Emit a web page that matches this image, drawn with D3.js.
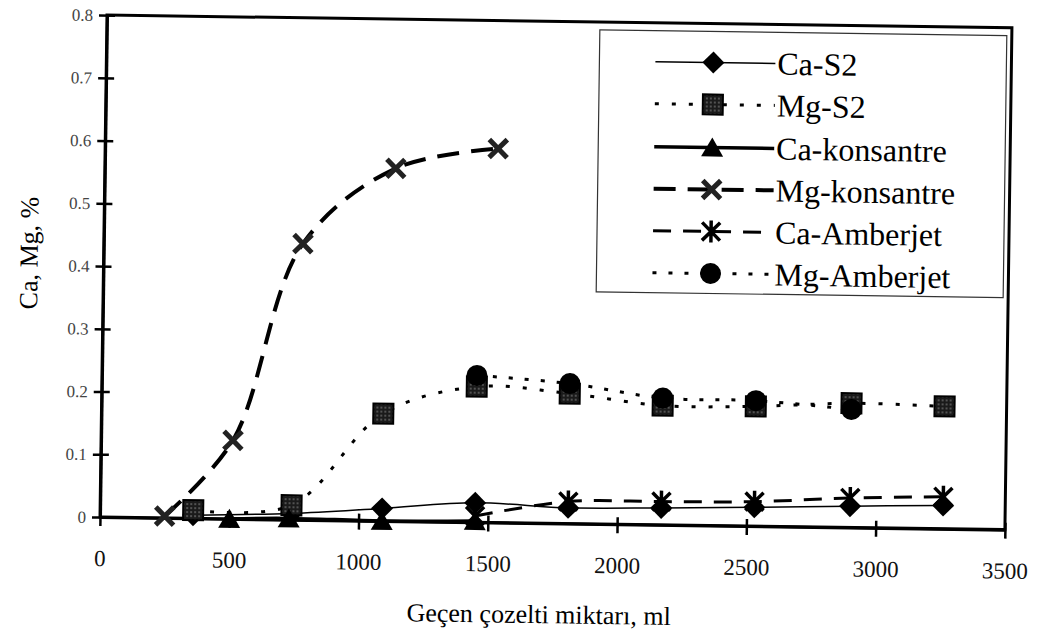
<!DOCTYPE html>
<meta charset="utf-8">
<style>
  body { margin: 0; background: #fff; }
  svg { font-family: "Liberation Serif", "DejaVu Serif", serif; }
</style>
<body>
<script src="https://cdn.jsdelivr.net/npm/d3@7"></script>
<script>
// values
var names = ["Ca-S2", "Mg-S2", "Ca-konsantre", "Mg-konsantre", "Ca-Amberjet", "Mg-Amberjet"];

var caS2X = [360, 740, 1090, 1450, 1810, 2170, 2530, 2900, 3260];
var caS2Y = [0.005, 0.01, 0.02, 0.031, 0.025, 0.027, 0.03, 0.034, 0.037];

var mgS2X = [360, 740, 1090, 1450, 1810, 2170, 2530, 2900, 3260];
var mgS2Y = [0.013, 0.023, 0.171, 0.216, 0.207, 0.19, 0.191, 0.198, 0.195];

var caKonX = [500, 730, 1090, 1450];
var caKonY = [0, 0.002, 0, 0.002];

var mgKonX = [250, 510, 770, 1125, 1520];
var mgKonY = [0.003, 0.125, 0.44, 0.562, 0.596];

var caAmbX = [1450, 1810, 2170, 2530, 2900, 3260];
var caAmbY = [0.01, 0.035, 0.037, 0.039, 0.047, 0.051];

var mgAmbX = [1450, 1810, 2170, 2530, 2900];
var mgAmbY = [0.234, 0.223, 0.202, 0.2, 0.188];

var xTicks = [0, 500, 1000, 1500, 2000, 2500, 3000, 3500];
var yTicks = [0, 0.1, 0.2, 0.3, 0.4, 0.5, 0.6, 0.7, 0.8];

var width = 1044, height = 638;

var x = d3.scaleLinear().domain([0, 3500]).range([100, 1005]);
var y = d3.scaleLinear().domain([0, 0.8]).range([517, 15]);

var svg = d3.select("body").append("svg")
  .attr("width", width)
  .attr("height", height);

var defs = svg.append("defs");
var pat = defs.append("pattern").attr("id", "stip")
  .attr("width", 4).attr("height", 4).attr("patternUnits", "userSpaceOnUse");
pat.append("rect").attr("width", 4).attr("height", 4).attr("fill", "#1a1a1a");
pat.append("circle").attr("cx", 2).attr("cy", 2).attr("r", 0.8).attr("fill", "#999");

// the scan is a little tilted, so the whole chart is turned slightly
var g = svg.append("g").attr("transform", "rotate(0.8,100,517)");

function zip(xs, ys) { return xs.map(function(v, i) { return [v, ys[i]]; }); }

var series = [
  {name: names[0], pts: zip(caS2X, caS2Y), width: 1.5, dash: null, mark: "diamond"},
  {name: names[1], pts: zip(mgS2X, mgS2Y), width: 3, dash: "4,13", mark: "square"},
  {name: names[2], pts: zip(caKonX, caKonY), width: 3.5, dash: null, mark: "triangle"},
  {name: names[3], pts: zip(mgKonX, mgKonY), width: 4, dash: "22,12", mark: "x"},
  {name: names[4], pts: zip(caAmbX, caAmbY), width: 3, dash: "18,12", mark: "star"},
  {name: names[5], pts: zip(mgAmbX, mgAmbY), width: 3, dash: "4,12", mark: "circle"}
];

// plot frame
g.append("rect")
  .attr("x", x(0)).attr("y", y(0.8))
  .attr("width", x(3500) - x(0)).attr("height", y(0) - y(0.8))
  .attr("fill", "none").attr("stroke", "#000").attr("stroke-width", 3);

// axes
var gx = g.append("g")
  .attr("transform", "translate(0," + y(0) + ")")
  .call(d3.axisBottom(x).tickValues(xTicks).tickSizeOuter(0).tickSizeInner(9)
    .tickFormat(d3.format("d")));
gx.attr("font-family", null).attr("font-size", null);
gx.select(".domain").attr("stroke-width", 3);
gx.selectAll(".tick line").attr("y1", -7).attr("y2", 9).attr("stroke-width", 2.5);
gx.selectAll(".tick text")
  .attr("y", 49).attr("dy", null)
  .attr("fill", "#111")
  .style("font-size", "23px");

var gy = g.append("g")
  .attr("transform", "translate(" + x(0) + ",0)")
  .call(d3.axisLeft(y).tickValues(yTicks).tickSizeOuter(0).tickSizeInner(8)
    .tickFormat(function(d) { return d === 0 ? "0" : d3.format(".1f")(d); }));
gy.attr("font-family", null).attr("font-size", null);
gy.select(".domain").attr("stroke-width", 3);
gy.selectAll(".tick line").attr("x1", 8).attr("x2", -8).attr("stroke-width", 2.5);
gy.selectAll(".tick text").attr("x", -14).style("font-size", "17px").attr("fill", "#444");

g.append("text")
  .attr("transform", "translate(34,254) rotate(-90)")
  .attr("text-anchor", "middle")
  .style("font-size", "26px")
  .text("Ca, Mg, %");

g.append("text")
  .attr("x", 540).attr("y", 617)
  .attr("text-anchor", "middle")
  .style("font-size", "26px")
  .text("Geçen çozelti miktarı, ml");

// markers
function marker(sel, kind) {
  if (kind === "diamond") {
    sel.append("path").attr("d", "M0,-11L11,0L0,11L-11,0Z").attr("fill", "#000");
  } else if (kind === "square") {
    sel.append("rect").attr("x", -10).attr("y", -10).attr("width", 20).attr("height", 20)
      .attr("fill", "url(#stip)").attr("stroke", "#000").attr("stroke-width", 2);
  } else if (kind === "triangle") {
    sel.append("path").attr("d", "M0,-10L11,9L-11,9Z").attr("fill", "#000");
  } else if (kind === "circle") {
    sel.append("circle").attr("r", 10.5).attr("fill", "#000");
  } else if (kind === "x") {
    sel.append("path").attr("d", "M-9,-9L9,9M9,-9L-9,9")
      .attr("stroke", "#222").attr("stroke-width", 5).attr("fill", "none");
  } else if (kind === "star") {
    sel.append("path").attr("d", "M-9,-9L9,9M9,-9L-9,9M0,-11L0,11")
      .attr("stroke", "#000").attr("stroke-width", 3.5).attr("fill", "none");
  }
}

var line = d3.line()
  .x(function(d) { return x(d[0]); })
  .y(function(d) { return y(d[1]); })
  .curve(d3.curveCatmullRom.alpha(0.5));

series.forEach(function(s) {
  g.append("path")
    .datum(s.pts)
    .attr("d", line)
    .attr("fill", "none")
    .attr("stroke", "#000")
    .attr("stroke-width", s.width)
    .attr("stroke-dasharray", s.dash);
});

series.forEach(function(s) {
  g.append("g").selectAll("g")
    .data(s.pts)
    .join("g")
    .attr("transform", function(d) { return "translate(" + x(d[0]) + "," + y(d[1]) + ")"; })
    .each(function() { marker(d3.select(this), s.mark); });
});

// legend
var legY = [54, 96, 139, 181, 223, 265];
var leg = g.append("g");
leg.append("rect")
  .attr("x", 593).attr("y", 23).attr("width", 407).attr("height", 262)
  .attr("fill", "#fff").attr("stroke", "#333").attr("stroke-width", 1.2);

series.forEach(function(s, i) {
  var row = leg.append("g").attr("transform", "translate(0," + legY[i] + ")");
  row.append("line")
    .attr("x1", 649).attr("x2", 769)
    .attr("stroke", "#000").attr("stroke-width", s.width)
    .attr("stroke-dasharray", s.dash);
  marker(row.append("g").attr("transform", "translate(707,0)"), s.mark);
  row.append("text")
    .attr("x", 771).attr("dy", "0.35em")
    .style("font-size", "32px")
    .text(s.name);
});
</script>
</body>
